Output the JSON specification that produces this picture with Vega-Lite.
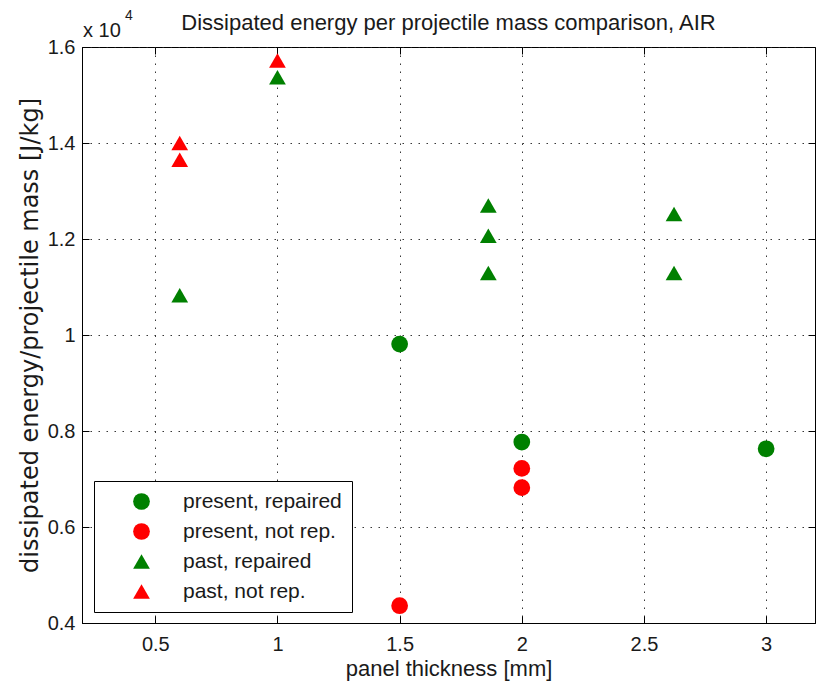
{
  "$schema": "https://vega.github.io/schema/vega-lite/v6.json",
  "width": 733,
  "height": 576,
  "autosize": {"type": "none"},
  "padding": {"left": 82, "top": 47, "right": 4, "bottom": 67},
  "background": "white",
  "config": {
    "view": {"stroke": "black", "strokeWidth": 1},
    "font": "Liberation Sans",
    "axis": {
      "domainColor": "black",
      "tickColor": "black",
      "labelColor": "#1a1a1a",
      "titleColor": "#1a1a1a",
      "labelFontSize": 20,
      "titleFontSize": 22,
      "titleFontWeight": "normal",
      "labelFont": "Liberation Sans",
      "titleFont": "Liberation Sans",
      "tickSize": -7,
      "gridDash": [1.5, 6.5],
      "gridColor": "#222222",
      "gridOpacity": 0.9
    },
    "legend": {
      "orient": "none",
      "legendX": 12,
      "legendY": 434,
      "strokeColor": "black",
      "fillColor": "white",
      "padding": 10,
      "symbolOffset": 27,
      "labelOffset": 31,
      "labelFontSize": 21,
      "labelFont": "Liberation Sans",
      "labelColor": "#1a1a1a",
      "rowPadding": 8,
      "symbolStrokeWidth": 0,
      "symbolOpacity": 1,
      "labelLimit": 400
    }
  },
  "data": {
    "values": [
      {"thickness": 1.5, "energy": 9810, "series": "present, repaired"},
      {"thickness": 2, "energy": 7770, "series": "present, repaired"},
      {"thickness": 3, "energy": 7630, "series": "present, repaired"},
      {"thickness": 2, "energy": 7220, "series": "present, not rep."},
      {"thickness": 2, "energy": 6820, "series": "present, not rep."},
      {"thickness": 1.5, "energy": 4360, "series": "present, not rep."},
      {"thickness": 0.6, "energy": 10830, "series": "past, repaired"},
      {"thickness": 1, "energy": 15370, "series": "past, repaired"},
      {"thickness": 1.863, "energy": 12700, "series": "past, repaired"},
      {"thickness": 1.863, "energy": 12070, "series": "past, repaired"},
      {"thickness": 1.863, "energy": 11290, "series": "past, repaired"},
      {"thickness": 2.623, "energy": 12520, "series": "past, repaired"},
      {"thickness": 2.623, "energy": 11290, "series": "past, repaired"},
      {"thickness": 0.6, "energy": 14000, "series": "past, not rep."},
      {"thickness": 0.6, "energy": 13650, "series": "past, not rep."},
      {"thickness": 1, "energy": 15720, "series": "past, not rep."}
    ]
  },
  "layer": [
    {
      "mark": {"type": "point", "filled": true, "opacity": 1, "strokeWidth": 0},
      "encoding": {
        "x": {
          "field": "thickness",
          "type": "quantitative",
          "scale": {"domain": [0.2, 3.2], "nice": false, "zero": false},
          "axis": {
            "values": [0.5, 1, 1.5, 2, 2.5, 3],
            "format": "~g",
            "grid": true,
            "labelPadding": 18,
            "titlePadding": 4,
            "title": "panel thickness [mm]"
          }
        },
        "y": {
          "field": "energy",
          "type": "quantitative",
          "scale": {"domain": [4000, 16000], "nice": false, "zero": false},
          "axis": {
            "values": [4000, 6000, 8000, 10000, 12000, 14000, 16000],
            "labelExpr": "format(datum.value/10000, '~g')",
            "grid": true,
            "labelPadding": 14,
            "titlePadding": 5,
            "titleFont": "DejaVu Sans",
            "titleFontSize": 24,
            "title": "dissipated energy/projectile mass [J/kg]"
          }
        },
        "color": {
          "field": "series",
          "type": "nominal",
          "scale": {
            "domain": ["present, repaired", "present, not rep.", "past, repaired", "past, not rep."],
            "range": ["#008000", "#ff0000", "#008000", "#ff0000"]
          },
          "legend": {"title": null}
        },
        "shape": {
          "field": "series",
          "type": "nominal",
          "scale": {
            "domain": ["present, repaired", "present, not rep.", "past, repaired", "past, not rep."],
            "range": ["circle", "circle", "triangle-up", "triangle-up"]
          },
          "legend": {"title": null}
        },
        "size": {
          "field": "series",
          "type": "nominal",
          "scale": {
            "domain": ["present, repaired", "present, not rep.", "past, repaired", "past, not rep."],
            "range": [280, 280, 460, 460]
          },
          "legend": {"title": null}
        }
      }
    },
    {
      "data": {"values": [{"note": "Dissipated energy per projectile mass comparison, AIR"}]},
      "mark": {"type": "text", "align": "center", "baseline": "alphabetic", "dy": -17, "fontSize": 22, "color": "#1a1a1a"},
      "encoding": {
        "x": {
          "datum": 1.7,
          "type": "quantitative",
          "axis": {"orient": "top", "values": [0.5, 1, 1.5, 2, 2.5, 3], "labels": false, "grid": false, "domain": false, "title": null}
        },
        "y": {
          "datum": 16000,
          "type": "quantitative",
          "axis": {"orient": "right", "values": [4000, 6000, 8000, 10000, 12000, 14000, 16000], "labels": false, "grid": false, "domain": false, "title": null}
        },
        "text": {"field": "note"}
      }
    },
    {
      "data": {"values": [{"note": "x 10"}]},
      "mark": {"type": "text", "align": "left", "baseline": "alphabetic", "dx": 1, "dy": -10, "fontSize": 20, "color": "#1a1a1a"},
      "encoding": {
        "x": {"datum": 0.2, "type": "quantitative", "axis": null},
        "y": {"datum": 16000, "type": "quantitative", "axis": null},
        "text": {"field": "note"}
      }
    },
    {
      "data": {"values": [{"note": "4"}]},
      "mark": {"type": "text", "align": "left", "baseline": "alphabetic", "dx": 43, "dy": -27, "fontSize": 14, "color": "#1a1a1a"},
      "encoding": {
        "x": {"datum": 0.2, "type": "quantitative", "axis": null},
        "y": {"datum": 16000, "type": "quantitative", "axis": null},
        "text": {"field": "note"}
      }
    }
  ],
  "resolve": {"axis": {"x": "independent", "y": "independent"}}
}
